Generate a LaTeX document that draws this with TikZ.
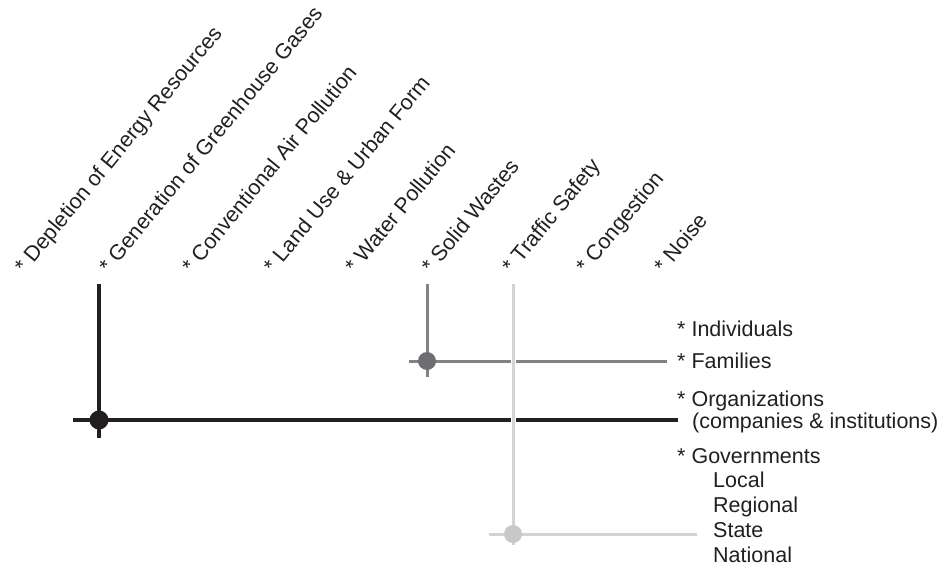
\documentclass[tikz,border=0pt]{standalone}
\usepackage{fontspec}
\setmainfont{Liberation Sans}
\definecolor{inkc}{HTML}{231F20}
\definecolor{darkg}{HTML}{808285}
\definecolor{darkgdot}{HTML}{6D6E71}
\definecolor{lightg}{HTML}{D1D3D4}
\definecolor{lightgdot}{HTML}{C7C8CA}
\begin{document}
\begin{tikzpicture}[x=1pt,y=-1pt,
  lab/.style={inner sep=0pt, anchor=base west, text=inkc, font=\fontsize{21.5pt}{24pt}\selectfont},
  rlab/.style={lab, rotate=50.5},
  dotnode/.style={circle, inner sep=0pt, minimum size=19pt},
  blackln/.style={draw=inkc, line width=3.4pt},
  darkln/.style={draw=darkg, line width=3pt},
  lightln/.style={draw=lightg, line width=3pt},
  lightcross/.style={lightln, preaction={draw=white, line width=5pt}}
]
\useasboundingbox (0,0) rectangle (940,565);
% rotated issue labels
\node[rlab] (t1) at (24.5,274.5) {* Depletion of Energy Resources};
\node[rlab] (t2) at (109,274.5) {* Generation of Greenhouse Gases};
\node[rlab] (t3) at (192,274.5) {* Conventional Air Pollution};
\node[rlab] (t4) at (273.5,274.5) {* Land Use \& Urban Form};
\node[rlab] (t5) at (355,274.5) {* Water Pollution};
\node[rlab] (t6) at (431.5,274.5) {* Solid Wastes};
\node[rlab] (t7) at (512,274.5) {* Traffic Safety};
\node[rlab] (t8) at (586,274.5) {* Congestion};
\node[rlab] (t9) at (664,274.5) {* Noise};
% actor labels
\node[lab] (a1) at (677,336) {* Individuals};
\node[lab] (a2) at (677,368) {* Families};
\node[lab] (a3) at (677,406) {* Organizations};
\node[lab] (a3b) at (692,428) {(companies \& institutions)};
\node[lab] (a4) at (677,463) {* Governments};
\node[lab] (a4a) at (713,487) {Local};
\node[lab] (a4b) at (713,512) {Regional};
\node[lab] (a4c) at (713,537) {State};
\node[lab] (a4d) at (713,562) {National};
% black cross
\coordinate (bT) at (99,284);
\coordinate (bB) at (99,438);
\coordinate (bL) at (73,420);
\coordinate (bR) at (678,420);
\draw[blackln] (bT) -- (bB);
\draw[blackln] (bL) -- (bR);
\node[dotnode, fill=inkc] (bD) at (99,420) {};
% dark grey cross
\coordinate (dT) at (427,284);
\coordinate (dB) at (427,377);
\coordinate (dL) at (409,361);
\coordinate (dR) at (667,361);
\draw[darkln] (dT) -- (dB);
\draw[darkln] (dL) -- (dR);
\node[dotnode, fill=darkgdot, minimum size=18pt] (dD) at (427,361) {};
% light grey cross
\coordinate (lT) at (513,284);
\coordinate (lB) at (513,545);
\coordinate (lL) at (489,534);
\coordinate (lR) at (697,534);
\draw[lightcross] (lT) -- (lB);
\draw[lightln] (lL) -- (lR);
\node[dotnode, fill=lightgdot, minimum size=18pt] (lD) at (513,534) {};
\end{tikzpicture}
\end{document}
